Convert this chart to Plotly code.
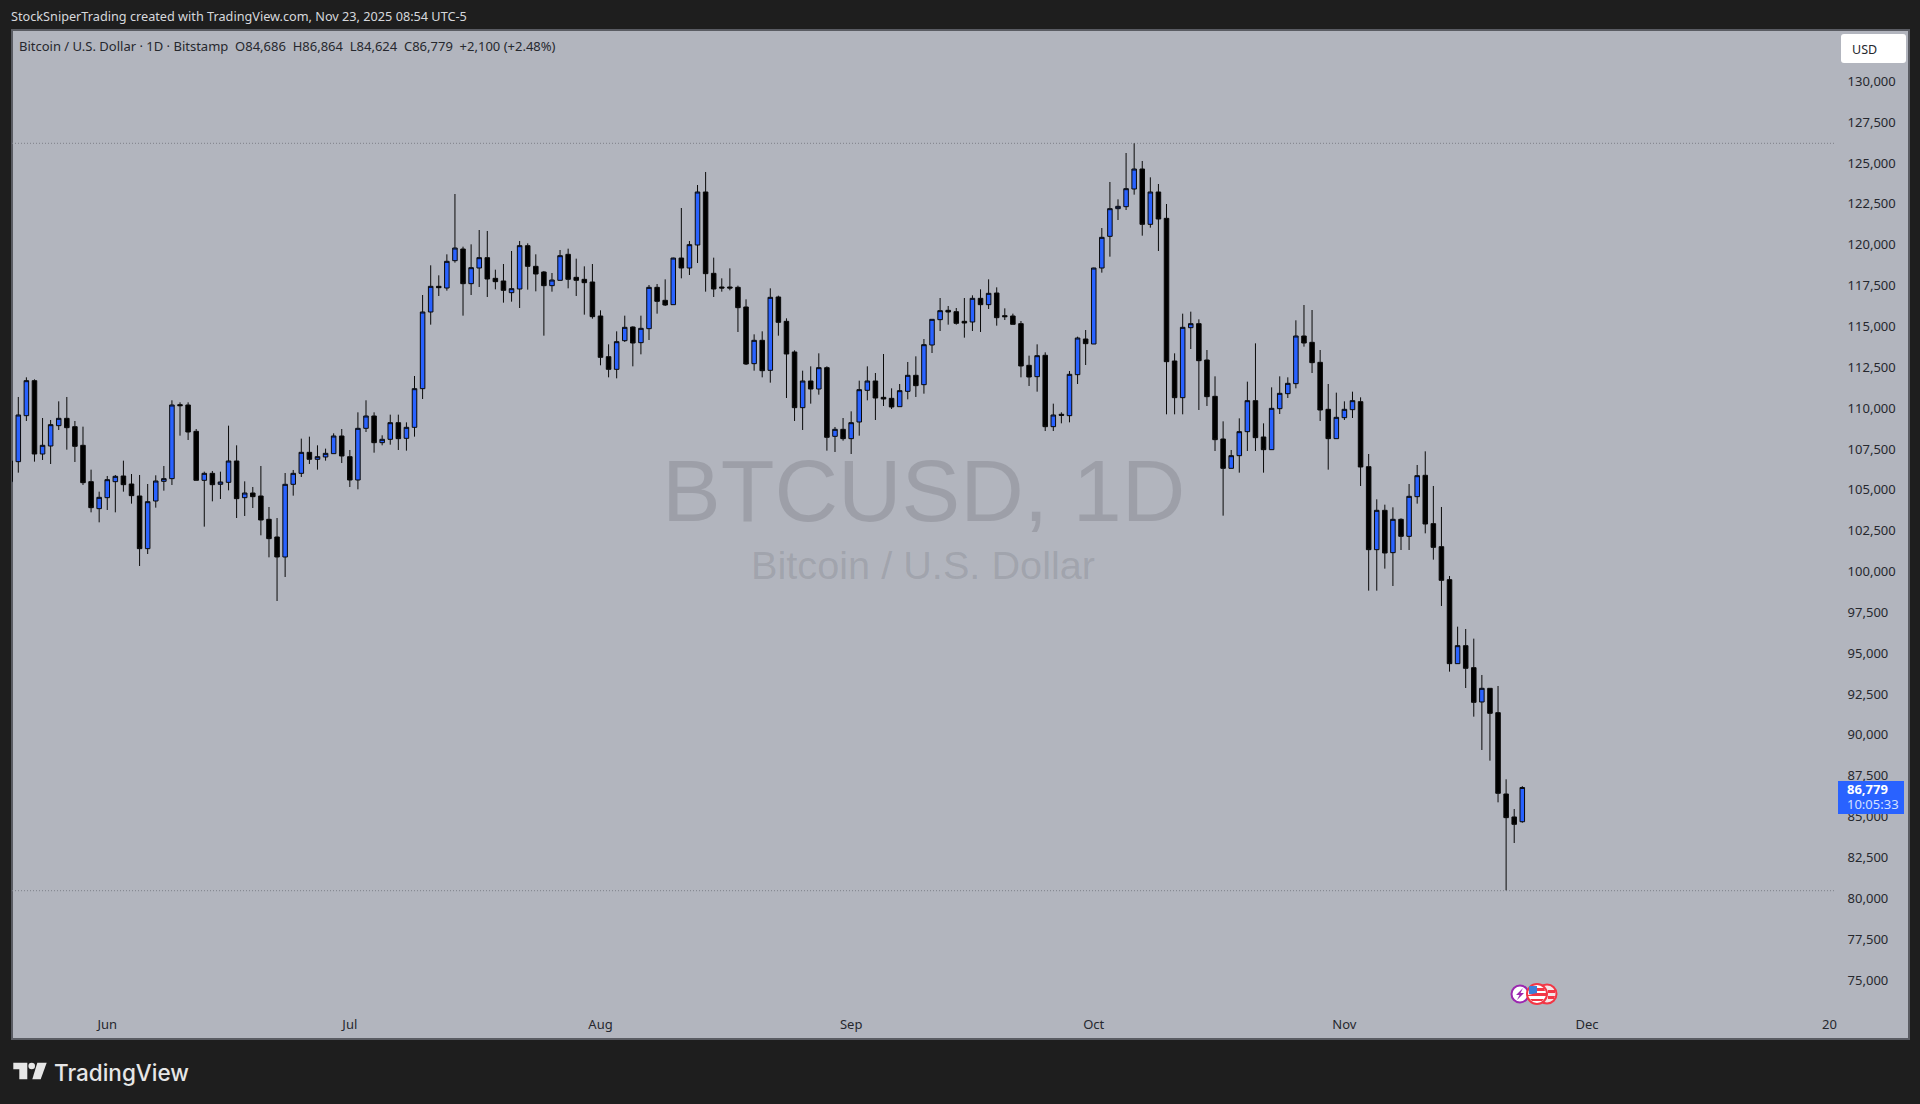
import pandas as pd
import plotly.graph_objects as go

start_date = "2025-05-20"
open_ = [105498,106722,109537,111679,107191,107681,108925,109374,108864,107722,105498,103846,104519,105498,105845,105355,104621,101398,104315,105518,
105682,110210,110190,108578,105580,106008,105335,105457,106763,104519,104804,104621,103193,102112,100888,105335,106008,107293,106865,107008,
107212,108293,107028,105600,108762,109517,107885,108089,109109,108150,108823,111190,115882,117452,117350,119023,119737,117616,118574,119207,
117942,117779,117065,117289,119941,118676,118330,117493,117820,119411,118003,117881,117718,115637,113148,112373,114127,114963,114005,114862,
117391,116596,116330,119184,118574,119982,123226,118248,117412,117412,117391,116188,112720,114148,112312,116800,115310,113434,110027,111659,
111169,112475,108272,108701,108130,109150,111088,111659,110659,110598,110088,111026,112006,111434,113862,115412,115984,115902,115310,115270,
116718,116330,117044,115657,115637,115168,112618,111924,113230,108864,109619,109537,112046,114229,113923,118574,120512,122206,122328,123409,
124633,121247,123226,121614,112883,110639,114923,115168,112944,110720,108109,106314,107089,108558,110455,108232,107456,109966,110884,111496,
114413,114025,112801,109925,108130,109415,109904,110394,106416,101336,103744,101153,103193,102152,104580,105886,102928,101520,99500,94360,
95461,94115,92014,92850,91361,86383,84976,84686]
high = [107300,110680,111883,111761,109394,109272,110414,110680,109211,108864,106232,104886,105845,105906,106783,105967,105906,105355,105886,106457,
110476,110353,110353,108721,106110,106151,106110,108925,107722,105518,105172,106457,103948,103274,106028,106212,108130,108252,107722,107518,
108456,108721,107436,109741,110476,109741,108334,109598,109598,109129,111965,116922,118738,118126,119411,123103,119880,120023,120900,120839,
118472,118819,119615,120227,120084,119411,118391,118268,119676,119758,119146,118676,118819,115984,113903,114698,115657,115004,115657,117534,
117595,117881,119207,122246,120227,123654,124450,119207,117942,118554,117493,116657,114515,114698,117330,116881,115494,113536,112291,112556,
113352,112556,108844,109394,109802,111679,112556,112148,113311,111210,111475,112822,113168,114229,115433,116738,116249,116126,116738,116902,
117269,117881,117391,116106,115780,115331,113209,113903,113413,110272,109741,112271,114372,114780,118594,121022,123838,122777,125612,126204,
125123,124123,123715,122491,113352,115780,115902,115433,113556,111944,109190,107436,109374,111618,113964,109068,111271,111944,111883,115372,
116310,116004,113556,111475,110945,110414,111006,110659,107191,104417,104090,103927,103254,105355,106518,107354,105233,103948,99725,96624,
96481,95890,93666,92850,92993,87281,85465,86864]
low = [105000,106049,109211,106722,106824,106579,108660,107456,106702,105294,103621,103009,103764,103621,104886,104152,100337,101071,103907,104947,
105294,108313,108048,105580,102744,104294,104437,104968,103274,103397,103886,102214,100867,98195,99664,104641,105784,106579,106232,106783,
107212,106640,105172,105029,108538,107273,107722,107762,107436,107395,108252,110557,115106,116861,117187,118901,115657,116922,117412,116800,
117269,116453,116514,116126,117248,117146,114433,117126,117820,117330,116861,115718,115474,112618,111883,111822,114046,112556,113291,114168,
115780,116249,116330,117942,118146,118880,117126,116800,117126,117208,114658,112638,112291,111883,111557,114433,110618,109211,108660,110272,
110822,107395,107314,108007,107191,108313,110476,109272,110129,109945,110088,110537,110680,110884,113372,114719,115106,115106,114311,114719,
114658,116065,115045,115392,115127,111883,111353,111006,108599,108599,109068,109129,111475,112638,113923,118289,119268,121512,122124,123062,
120553,121043,119615,109619,109619,109619,113617,109884,110129,107375,103417,106314,106049,107375,107375,106049,107456,109639,110618,111210,
113760,112148,109211,106232,108130,109272,109394,105233,98827,98827,100174,99113,101316,101316,104152,102336,100724,97889,93870,94360,
92870,91116,89076,88423,85873,80488,83384,84624]
close = [106763,109578,111679,107191,107722,108986,109374,108803,107660,105437,103907,104539,105620,105824,105314,104641,101398,104274,105539,105682,
110190,110149,108538,105580,106008,105314,105478,106763,104458,104804,104580,103152,102010,100888,105335,106008,107293,106865,107028,107232,
108293,107069,105600,108762,109517,107885,108089,109109,108130,108823,111190,115882,117452,117371,118982,119798,117616,118595,119207,117901,
117738,117208,117310,119941,118676,118207,117493,117840,119329,117881,117820,117677,115596,113107,112373,114066,114943,113984,114882,117391,
116534,116310,119184,118574,120002,123226,118228,117289,117350,117350,116147,112699,114148,112291,116779,115249,113311,110027,111659,111169,
112475,108211,108701,108130,109109,111128,111659,110618,110557,110068,111067,112006,111373,113882,115433,115963,115882,115188,115208,116718,
116330,117024,115535,115596,115127,112577,111904,113209,108864,109578,109558,112067,114290,113944,118574,120451,122206,122348,123430,124633,
121247,123226,121573,112842,110639,114943,115168,112903,110700,108068,106314,107089,108558,110455,108191,107456,109986,110904,111516,114413,
113984,112781,109884,108130,109435,109925,110455,106396,101336,103744,101132,103193,102152,104600,105865,102907,101479,99460,94360,95461,
94074,91993,92850,91320,86424,84935,84527,86779]
range_levels = [126206, 80465]
price_ticks = list(range(75000, 130001, 2500))
month_ticks = ["2025-06-01", "2025-07-01", "2025-08-01", "2025-09-01", "2025-10-01", "2025-11-01", "2025-12-01", "2025-12-31"]
month_labels = ["Jun", "Jul", "Aug", "Sep", "Oct", "Nov", "Dec", "20"]
header = "StockSniperTrading created with TradingView.com, Nov 23, 2025 08:54 UTC-5"
legend = "Bitcoin / U.S. Dollar · 1D · Bitstamp  O84,686  H86,864  L84,624  C86,779  +2,100 (+2.48%)"

dates = pd.date_range(start_date, periods=len(close), freq="D")
L, R, T, B = 12, 1835, 30, 1006
PAGE = "#1e1e1e"
PANE = "#b2b5be"
INK = "#26282e"
BLUE = "#2962ff"
FONT = "Noto Sans"
anchor = pd.Timestamp("2025-05-21")
x_range = [anchor - pd.Timedelta(days=(18.3 - L) / 8.086), anchor + pd.Timedelta(days=(R - 18.3) / 8.086)]
y_range = [73408, 133140]

def px(x):
    return (x - L) / (R - L)

def py(y):
    return (B - y) / (B - T)

fig = go.Figure(go.Candlestick(
    x=dates, open=open_, high=high, low=low, close=close,
    increasing=dict(fillcolor=BLUE, line=dict(color="#0a0a0a", width=1)),
    decreasing=dict(fillcolor="#000000", line=dict(color="#0a0a0a", width=1)),
    whiskerwidth=0, hoverinfo="skip", showlegend=False,
))

shapes = [dict(type="rect", xref="paper", yref="paper", x0=px(12), x1=px(1909), y0=py(30), y1=py(1039),
               fillcolor=PANE, line=dict(color="#5a5c63", width=2), layer="below")]
for lv in range_levels:
    shapes.append(dict(type="line", xref="paper", yref="y", x0=0, x1=1, y0=lv, y1=lv,
                       line=dict(color="#7d8089", width=1, dash="1px,2px"), layer="below"))
# currency button and last-price tag
shapes.append(dict(type="path", xref="paper", yref="paper", fillcolor="#ffffff", line=dict(width=0),
    path=f"M{px(1844)},{py(34)} L{px(1903)},{py(34)} Q{px(1906)},{py(34)} {px(1906)},{py(37)} L{px(1906)},{py(60)} "
         f"Q{px(1906)},{py(63)} {px(1903)},{py(63)} L{px(1844)},{py(63)} Q{px(1841)},{py(63)} {px(1841)},{py(60)} "
         f"L{px(1841)},{py(37)} Q{px(1841)},{py(34)} {px(1844)},{py(34)} Z"))
shapes.append(dict(type="rect", xref="paper", yref="paper", x0=px(1838), x1=px(1904), y0=py(781), y1=py(814),
                   fillcolor=BLUE, line=dict(width=0)))
# logo
def poly(pts, color):
    d = "M" + " L".join(f"{px(a)},{py(b)}" for a, b in pts) + " Z"
    return dict(type="path", xref="paper", yref="paper", path=d, fillcolor=color, line=dict(width=0))

def circ(cx, cy, r, fill, line=None, w=0):
    return dict(type="circle", xref="paper", yref="paper", x0=px(cx - r), x1=px(cx + r), y0=py(cy + r), y1=py(cy - r),
                fillcolor=fill, line=dict(color=line or fill, width=w))

LOGO = "#e6e6e6"
shapes += [
    poly([(13.3, 1062.7), (27.3, 1062.7), (27.3, 1079.3), (19.3, 1079.3), (19.3, 1069.3), (13.3, 1069.3)], LOGO),
    circ(31.7, 1066, 3.3, LOGO),
    poly([(37.3, 1062.7), (46.7, 1062.7), (40.7, 1079.3), (32.3, 1079.3)], LOGO),
]
# event icons
shapes += [
    circ(1520, 994, 8.5, "#ffffff", "#9c27b0", 2),
    poly([(1523, 988), (1516, 995), (1519.5, 995), (1517, 1000), (1524, 993), (1520.5, 993)], "#9c27b0"),
    circ(1547, 994, 9.5, "#f5e4e6", "#f23645", 2),
    poly([(1548, 990), (1555, 990), (1555, 993), (1548, 993)], "#f23645"),
    poly([(1548, 996), (1555, 996), (1554, 999), (1548, 999)], "#f23645"),
    circ(1537, 994, 10, "#ffffff", "#f23645", 2),
    poly([(1529, 986), (1537, 986), (1537, 994), (1529, 994)], "#3d7fd9"),
    poly([(1537, 988), (1544, 988), (1545, 991), (1537, 991)], "#f23645"),
    poly([(1537, 993), (1546, 993), (1546, 996), (1528, 996), (1528, 995)], "#f23645"),
    poly([(1530, 999), (1544, 999), (1542, 1001), (1532, 1001)], "#f23645"),
]

def note(x, y, text, size=13, color=INK, family=FONT, anchor_x="left", weight=None):
    f = dict(size=size, color=color, family=family)
    if weight:
        f["weight"] = weight
    return dict(xref="paper", yref="paper", x=px(x), y=py(y), text=text, showarrow=False, xanchor=anchor_x,
                yanchor="middle", font=f, borderpad=0, borderwidth=0)

annotations = [
    note(923, 490, "BTCUSD, 1D", 88, "rgba(90,92,100,0.24)", "Liberation Sans", "center"),
    note(923, 565, "Bitcoin / U.S. Dollar", 39.7, "rgba(90,92,100,0.2)", "Liberation Sans", "center"),
    note(11, 16, header, 12.7, "#d6d8dc"),
    note(19, 46.5, legend.replace("  ", "&nbsp;&nbsp;"), 13, INK),
    note(1852, 50, "USD", 12.5, INK),
    note(1847, 789, "<b>86,779</b>", 13, "#ffffff"),
    note(1847, 804, "10:05:33", 13, "#d5e0ff"),
    note(54, 1072, "TradingView", 22.5, LOGO, "Inter", weight=500),
]

fig.update_layout(
    width=1920, height=1104, autosize=False, boxgap=0.2,
    margin=dict(l=L, r=1920 - R, t=T, b=1104 - B, pad=0),
    paper_bgcolor=PAGE, plot_bgcolor="rgba(0,0,0,0)",
    font=dict(family=FONT, size=13, color=INK),
    showlegend=False, shapes=shapes, annotations=annotations, hovermode=False,
    xaxis=dict(type="date", range=x_range, rangeslider=dict(visible=False), showgrid=False, zeroline=False,
               showline=False, tickmode="array", tickvals=month_ticks, ticktext=month_labels,
               ticks="outside", ticklen=6, tickcolor="rgba(0,0,0,0)", tickfont=dict(size=13, color=INK)),
    yaxis=dict(side="right", range=y_range, showgrid=False, zeroline=False, showline=False,
               tickmode="array", tickvals=price_ticks, tickformat=",d",
               ticks="outside", ticklen=9, tickcolor="rgba(0,0,0,0)", tickfont=dict(size=13, color=INK)),
)

fig.write_html("out.html", config=dict(displayModeBar=False),
               post_script="document.body.style.margin='0';document.body.style.overflow='hidden';")
